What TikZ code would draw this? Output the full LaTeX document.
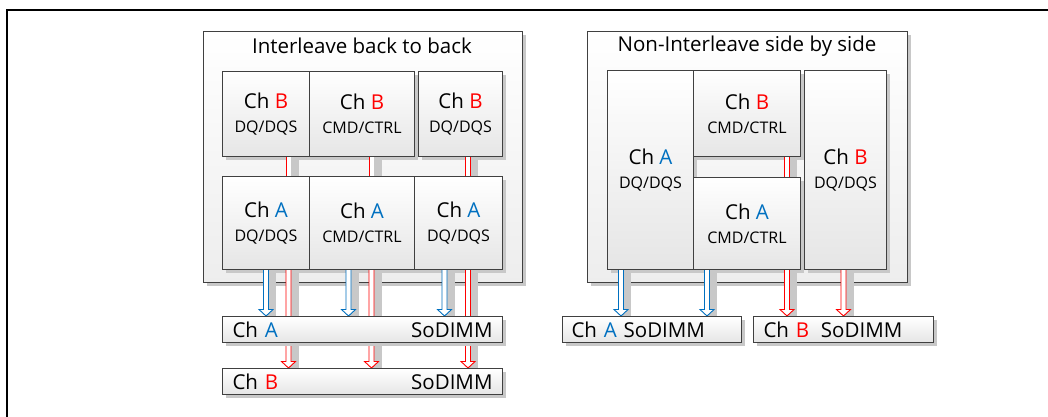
\documentclass[tikz,border=0pt]{standalone}
\usepackage{fontspec}
\setmainfont{Open Sans}
\usetikzlibrary{shadows,calc}
\definecolor{cha}{RGB}{0,112,192}
\definecolor{chb}{RGB}{255,0,0}
\definecolor{edgec}{RGB}{64,64,64}
\definecolor{shadec}{RGB}{200,200,200}
\newcommand\chfont{\fontsize{20.5}{24}\selectfont}
\newcommand\subfont{\fontsize{16}{24}\selectfont}
\begin{document}
\begin{tikzpicture}[x=1pt,y=-1pt,
  boxshadow/.style={drop shadow={shadow xshift=3pt,shadow yshift=-3pt,fill=shadec,opacity=1}},
  outerbox/.style={draw=edgec,line width=1pt,top color=white,bottom color=black!7,inner sep=0pt,anchor=north west,boxshadow},
  blk/.style={draw=edgec,line width=1pt,top color=white,bottom color=black!10,inner sep=0pt,anchor=north west,align=center,font=\subfont,boxshadow},
  dimm/.style={draw=edgec,line width=1pt,top color=white,bottom color=black!10,inner ysep=0pt,anchor=north west,align=left,font=\chfont,minimum height=26pt,boxshadow},
  title/.style={font=\chfont,inner sep=0pt},
  hollow/.style={line width=0.9pt,fill=white,to path={let \p1=(\tikztostart),\p2=(\tikztotarget) in
    (\x1-2.5pt,\y1) -- (\x1-2.5pt,\y2+6.5pt) -- (\x1-7pt,\y2+6.5pt) -- (\x1,\y2) -- (\x1+7pt,\y2+6.5pt) -- (\x1+2.5pt,\y2+6.5pt) -- (\x1+2.5pt,\y1)}},
  ashadow/.style={fill=shadec,to path={let \p1=(\tikztostart),\p2=(\tikztotarget) in
    (\x1,\y1) rectangle (\x1+10pt,\y2-#1)}},
  ashadow/.default=4pt,
  shaft/.style={line width=0.9pt,double=white,double distance=4pt}
]
\useasboundingbox (0,0) rectangle (1048,416);
\fill[white] (0,0) rectangle (1048,416);
\draw[line width=2pt] (7,417) -- (7,10) -- (1049,10);

% x positions of the connectors
\coordinate (xa1) at (266,0);
\coordinate (xa2) at (348.5,0);
\coordinate (xa3) at (444.5,0);
\coordinate (xb1) at (288.5,0);
\coordinate (xb2) at (371.5,0);
\coordinate (xb3) at (468,0);
\coordinate (xra1) at (621,0);
\coordinate (xra2) at (707,0);
\coordinate (xrb1) at (787,0);
\coordinate (xrb2) at (843.5,0);

% ---------------- left: interleave ----------------
\node[outerbox,minimum width=319pt,minimum height=251pt] (outL) at (203,31) {};
\node[title] (titL) at (362,46) {Interleave back to back};

\node[blk,minimum width=87pt,minimum height=85pt] (b1) at (222,71) {{\chfont Ch \textcolor{chb}{B}}\\DQ/DQS};
\node[blk,minimum width=105pt,minimum height=85pt] (b2) at (309,71) {{\chfont Ch \textcolor{chb}{B}}\\CMD/CTRL};
\node[blk,minimum width=84pt,minimum height=85pt] (b3) at (418,71) {{\chfont Ch \textcolor{chb}{B}}\\DQ/DQS};

\node[blk,minimum width=87pt,minimum height=93pt] (a1) at (222,176) {{\chfont Ch \textcolor{cha}{A}}\\DQ/DQS};
\node[blk,minimum width=105pt,minimum height=93pt] (a2) at (309,176) {{\chfont Ch \textcolor{cha}{A}}\\CMD/CTRL};
\node[blk,minimum width=88pt,minimum height=93pt] (a3) at (414,176) {{\chfont Ch \textcolor{cha}{A}}\\DQ/DQS};

% ---------------- right: non-interleave ----------------
\node[outerbox,minimum width=320pt,minimum height=251pt] (outR) at (587,31) {};
\node[title] (titR) at (747,46) {Non-Interleave side by side};

\node[blk,minimum width=86pt,minimum height=199pt] (ra1) at (607,70) {{\chfont Ch \textcolor{cha}{A}}\\DQ/DQS};
\node[blk,minimum width=107pt,minimum height=86pt] (rb2) at (693,70) {{\chfont Ch \textcolor{chb}{B}}\\CMD/CTRL};
\node[blk,minimum width=107pt,minimum height=92pt] (ra2) at (693,177) {{\chfont Ch \textcolor{cha}{A}}\\CMD/CTRL};
\node[blk,minimum width=82pt,minimum height=199pt] (rb1) at (804,70) {{\chfont Ch \textcolor{chb}{B}}\\DQ/DQS};

% ---------------- connectors between rows ----------------
\foreach \xx in {xb1,xb2,xb3}{
  \fill[ashadow=0pt] (b1.south -| \xx) to (a1.north -| \xx);
  \draw[chb,shaft] (b1.south -| \xx) -- (a1.north -| \xx);
}
\fill[ashadow=0pt] (rb2.south -| xrb1) to (ra2.north -| xrb1);
\draw[chb,shaft] (rb2.south -| xrb1) -- (ra2.north -| xrb1);

% ---------------- SoDIMM coordinates (for targets) ----------------
\coordinate (sAtop) at (0,316);
\coordinate (sBtop) at (0,368);

% left arrows
\foreach \xx in {xb1,xb2,xb3}{
  \fill[ashadow] (a1.south -| \xx) to (sBtop -| \xx);
  \draw[chb,hollow] (a1.south -| \xx) to (sBtop -| \xx);
}
\foreach \xx in {xa1,xa2,xa3}{
  \fill[ashadow] (a1.south -| \xx) to (sAtop -| \xx);
  \draw[cha,hollow] (a1.south -| \xx) to (sAtop -| \xx);
}
% right arrows
\fill[ashadow] (ra1.south -| xra1) to (sAtop -| xra1);
\draw[cha,hollow] (ra1.south -| xra1) to (sAtop -| xra1);
\fill[ashadow] (ra2.south -| xra2) to (sAtop -| xra2);
\draw[cha,hollow] (ra2.south -| xra2) to (sAtop -| xra2);
\fill[ashadow] (ra2.south -| xrb1) to (sAtop -| xrb1);
\draw[chb,hollow] (ra2.south -| xrb1) to (sAtop -| xrb1);
\fill[ashadow] (rb1.south -| xrb2) to (sAtop -| xrb2);
\draw[chb,hollow] (rb1.south -| xrb2) to (sAtop -| xrb2);

% ---------------- SoDIMM boxes ----------------
\node[dimm,inner xsep=10pt,text width=260pt] (sA) at (222,316) {Ch \textcolor{cha}{A}\hfill SoDIMM\hspace*{7pt}};
\node[dimm,inner xsep=10pt,text width=260pt] (sB) at (222,368) {Ch \textcolor{chb}{B}\hfill SoDIMM\hspace*{7pt}};
\node[dimm,inner xsep=9pt,text width=161pt] (sA2) at (562,316) {Ch \textcolor{cha}{A} SoDIMM};
\node[dimm,inner xsep=10pt,text width=160pt] (sB2) at (753,316) {Ch \textcolor{chb}{B}\hspace{5pt} SoDIMM};
\end{tikzpicture}
\end{document}
